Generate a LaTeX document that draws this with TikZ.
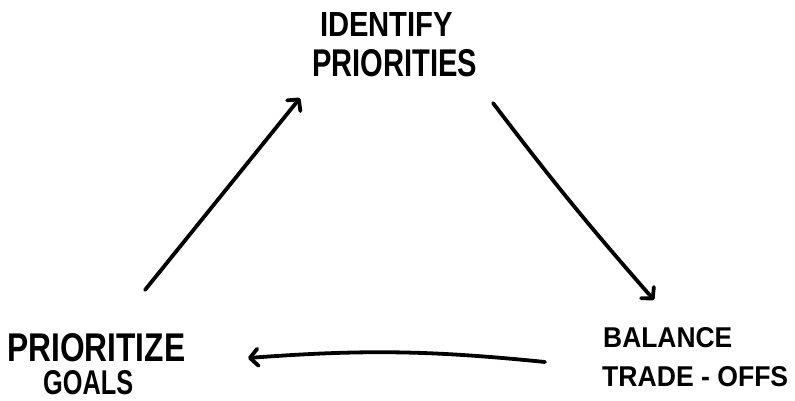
\documentclass[tikz,border=0pt]{standalone}
\usepackage{fontspec}
\setmainfont{Liberation Sans}
\usetikzlibrary{arrows.meta}
\tikzset{
  lbl/.style={anchor=south west, inner sep=0pt, font=\bfseries},
  flow/.style={line width=3.8pt, line cap=round, -{Straight Barb[length=8pt,width=17pt,line cap=round,line join=round]}}
}
\begin{document}
\begin{tikzpicture}[x=1pt,y=1pt]
\useasboundingbox (0,0) rectangle (795,401);
\node[lbl] (id1) at (320,364) {\resizebox{133pt}{24pt}{IDENTIFY}};
\node[lbl] (id2) at (312,324) {\resizebox{165pt}{27pt}{PRIORITIES}};
\node[lbl] (pr1) at (7,39) {\resizebox{178pt}{28pt}{PRIORITIZE}};
\node[lbl] (pr2) at (43,6) {\resizebox{90pt}{24pt}{GOALS}};
\node[lbl] (ba1) at (603,53) {\resizebox{129pt}{20pt}{BALANCE}};
\node[lbl] (ba2) at (602,14) {\resizebox{186pt}{20pt}{TRADE - OFFS}};
\coordinate (a1s) at (145,111);
\coordinate (a1e) at (300,303);
\coordinate (a2s) at (493,298);
\coordinate (a2e) at (654,101);
\coordinate (a3s) at (545,39);
\coordinate (a3e) at (248,43);
\draw[flow] (a1s) -- (a1e);
\draw[flow] (a2s) to[bend right=2] (a2e);
\draw[flow] (a3s) to[bend right=5] (a3e);
\end{tikzpicture}
\end{document}
